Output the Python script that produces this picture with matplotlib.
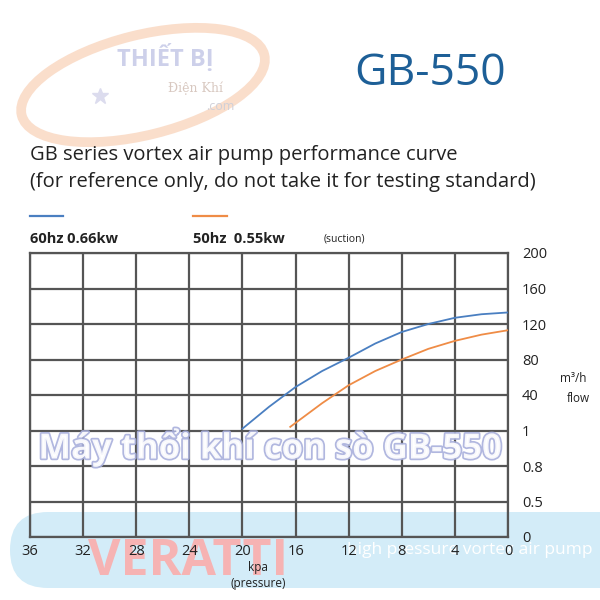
import numpy as np
import matplotlib.pyplot as plt
from matplotlib.patches import Ellipse, FancyBboxPatch
import matplotlib.patheffects as pe

plt.rcParams['font.family'] = ['Open Sans', 'DejaVu Sans']

#%% data
levels = [0, 0.5, 0.8, 1, 40, 80, 120, 160, 200]
level_labels = ['0', '0.5', '0.8', '1', '40', '80', '120', '160', '200']
kpa_ticks = [36, 32, 28, 24, 20, 16, 12, 8, 4, 0]

kpa_60 = [20, 18, 16, 14, 12, 10, 8, 6, 4, 2, 0]
flow_60 = [3, 27, 49, 67, 82, 98, 111, 120, 127, 131, 133]

kpa_50 = [16.4, 14, 12, 10, 8, 6, 4, 2, 0]
flow_50 = [5, 31, 51, 67, 80, 92, 101, 108, 113]

blue = '#4a7fc1'
orange = '#ef8c46'
grid_c = '#555555'

idx = np.arange(len(levels))
def fwd(y):
    return np.interp(y, levels, idx)
def inv(i):
    return np.interp(i, idx, levels)

fig = plt.figure(figsize=(6, 6), dpi=100)

#%% background (watermark band + logo ring), pixel coords
bg = fig.add_axes([0, 0, 1, 1], zorder=0)
bg.set_xlim(0, 600)
bg.set_ylim(600, 0)
bg.axis('off')
bg.add_patch(Ellipse((143, 85), 250, 100, angle=-14, fill=False,
                     ec='#f9d6bf', lw=7, alpha=0.8))
bg.add_patch(FancyBboxPatch((10, 512), 640, 76, boxstyle='round,pad=0,rounding_size=38',
                            fc='#d3ecf8', ec='none'))
bg.text(188, 562, 'VERATTI', fontsize=36, fontweight='bold', color='#f6b3b3',
        ha='center', va='center')
bg.text(470, 550, 'high pressure vortex air pump', fontsize=12.5, color='white',
        ha='center', va='center')

#%% main chart
ax = fig.add_axes([30/600, 1-537/600, 478/600, 284/600], zorder=1)
ax.patch.set_alpha(0)
ax.set_yscale('function', functions=(fwd, inv))
ax.set_ylim(0, 200)
ax.set_xlim(36, 0)
ax.set_xticks(kpa_ticks)
ax.set_xticklabels([str(k) for k in kpa_ticks])
ax.set_yticks(levels)
ax.set_yticklabels(level_labels)
ax.minorticks_off()
ax.yaxis.tick_right()
ax.tick_params(axis='y', length=0, pad=10, labelsize=10.5, colors='#222222')
ax.tick_params(axis='x', length=0, pad=5, labelsize=10.5, colors='#222222')
for t in ax.get_yticklabels():
    t.set_horizontalalignment('left')
ax.grid(True, color=grid_c, lw=1.6)
for s in ax.spines.values():
    s.set_color(grid_c)
    s.set_linewidth(1.6)

ax.plot(kpa_60, flow_60, color=blue, lw=1.3, zorder=3)
ax.plot(kpa_50, flow_50, color=orange, lw=1.3, zorder=3)

#%% texts on top
ov = fig.add_axes([0, 0, 1, 1], zorder=2)
ov.set_xlim(0, 600)
ov.set_ylim(600, 0)
ov.axis('off')
ov.patch.set_alpha(0)

ov.text(165, 58, 'THIẾT BỊ', fontsize=17, fontweight='bold', color='#cdd0ea',
        ha='center', va='center')
ov.text(195, 88, 'Điện Khí', fontsize=9, color='#d8c8c0', ha='center',
        va='center', family='DejaVu Serif')
ov.text(220, 106, '.com', fontsize=9, color='#d0d0d8', ha='center', va='center')
ov.plot(100, 96, marker='*', ms=12, color='#dcdcee')

ov.text(430, 74, 'GB-550', fontsize=32, color='#1d5f97', ha='center', va='center')
ov.text(30, 155, 'GB series vortex air pump performance curve', fontsize=14.5,
        color='#222222', ha='left', va='center')
ov.text(30, 182, '(for reference only, do not take it for testing standard)',
        fontsize=14.5, color='#222222', ha='left', va='center')

# legend
ov.plot([30, 63], [216, 216], color=blue, lw=1.6)
ov.plot([193, 227], [216, 216], color=orange, lw=1.6)
ov.text(30, 239, '60hz 0.66kw', fontsize=10.5, fontweight='bold', color='#222222',
        ha='left', va='center')
ov.text(193, 239, '50hz  0.55kw', fontsize=10.5, fontweight='bold', color='#222222',
        ha='left', va='center')
ov.text(324, 239, '(suction)', fontsize=7.5, color='#222222', ha='left', va='center')

ov.text(560, 378, 'm³/h', fontsize=8.5, color='#222222', ha='left', va='center')
ov.text(567, 398, 'flow', fontsize=8.5, color='#222222', ha='left', va='center')
ov.text(258, 568, 'kpa', fontsize=8.5, color='#222222', ha='center', va='center')
ov.text(258, 584, '(pressure)', fontsize=8.5, color='#222222', ha='center', va='center')

ov.text(270, 447, 'Máy thổi khí con sò GB-550', fontsize=25, fontweight='bold',
        color='white', ha='center', va='center', alpha=0.9,
        path_effects=[pe.withStroke(linewidth=2.5, foreground='#a9b0dc')])

fig.savefig('out.png', dpi=100)
